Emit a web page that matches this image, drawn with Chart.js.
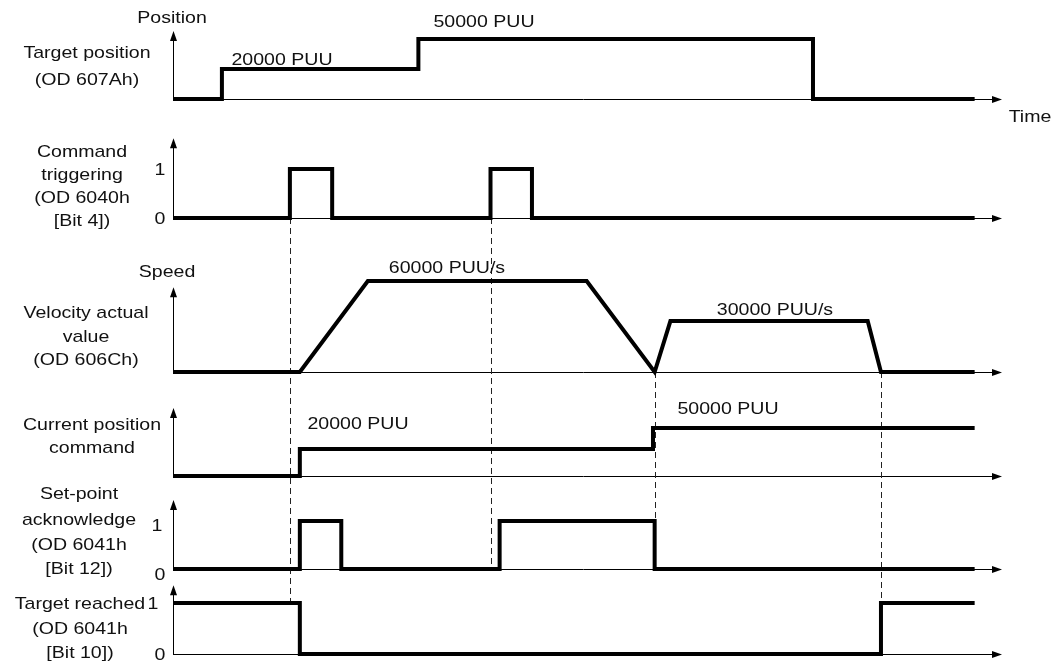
<!DOCTYPE html>
<html>
<head>
<meta charset="utf-8">
<script src="https://cdn.jsdelivr.net/npm/chart.js@4/dist/chart.umd.min.js"></script>
<style>
  html, body { margin: 0; padding: 0; background: #fff; }
  canvas { display: block; }
</style>
</head>
<body>
<canvas id="timing" width="1054" height="670"></canvas>
<script>
// Time runs 0..100 on every row (100 = tip of the time arrow)

// Target position (OD 607Ah): level 1 = 20000 PUU, level 2 = 50000 PUU
const targetT = [0, 5.9, 29.6, 77.2, 96.7];
const targetV = [0, 1, 2, 0, 0];

// Command triggering (OD 6040h [Bit 4])
const trigT = [0, 14.1, 19.2, 38.3, 43.3, 96.7];
const trigV = [0, 1, 0, 1, 0, 0];

// Velocity actual value (OD 606Ch): 1 = 60000 PUU/s, 0.56 = 30000 PUU/s (as drawn)
const speedT = [0, 15.3, 23.5, 49.9, 58.1, 60.0, 83.8, 85.4, 96.7];
const speedV = [0, 0, 1, 1, 0, 0.56, 0.56, 0, 0];

// Current position command: level 1 = 20000 PUU, 1.78 = 50000 PUU (as drawn)
const posT = [0, 15.3, 57.9, 96.7];
const posV = [0, 1, 1.78, 1.78];

// Set-point acknowledge (OD 6041h [Bit 12])
const ackT = [0, 15.3, 20.3, 39.4, 58.1, 96.7];
const ackV = [0, 1, 0, 1, 0, 0];

// Target reached (OD 6041h [Bit 10])
const reachT = [0, 15.3, 85.4, 96.7];
const reachV = [1, 0, 1, 1];

// dashed event markers: time, from row/level, to row/level
const markT = [14.1, 38.3, 58.1, 85.4];
const markFrom = [[1, 0], [1, 0], [2, 0], [2, 0]];
const markTo = [[5, 1], [4, 0], [4, 1], [5, 1]];

const rowLabels = [
  ['Target position', '(OD 607Ah)'],
  ['Command', 'triggering', '(OD 6040h', '[Bit 4])'],
  ['Velocity actual', 'value', '(OD 606Ch)'],
  ['Current position', 'command'],
  ['Set-point', 'acknowledge', '(OD 6041h', '[Bit 12])'],
  ['Target reached', '(OD 6041h', '[Bit 10])']
];

const notes = ['Position', 'Time', '20000 PUU', '50000 PUU', '60000 PUU/s', '30000 PUU/s', '20000 PUU', '50000 PUU', 'Speed'];

// layout (pixels)
const rowBase = [99, 218, 372, 476, 569, 654];
const rowUnit = [30, 49, 91, 27, 48, 51];
const axisTop = [2.27, 1.63, 0.93, 2.52, 1.44, 1.35];
const labelX = [87, 82, 86, 92, 79, 80];
const labelY = [[53, 80], [152, 175, 198, 221], [313, 337, 360], [425, 448], [494, 520, 545, 569], [604, 629, 653]];
const notePos = [[172, 18], [1030, 117], [282, 60], [484, 22], [447, 268], [775, 310], [358, 424], [728, 409], [167, 272]];
const tickMarks = [[1, '1', 160, 170], [1, '0', 160, 219], [4, '1', 157, 526], [4, '0', 160, 575], [5, '1', 153, 604], [5, '0', 160, 655]];
const canvasH = 670;
const textStretch = 1.15;

const rowIds = ['yRow1', 'yRow2', 'yRow3', 'yRow4', 'yRow5', 'yRow6'];

function points(ts, vs) {
  return ts.map((t, i) => ({x: t, y: vs[i]}));
}

function signal(ts, vs, row, stepped) {
  return {
    data: points(ts, vs),
    yAxisID: rowIds[row],
    borderColor: '#000',
    borderWidth: 4,
    pointRadius: 0,
    tension: 0,
    stepped: stepped ? 'before' : false,
    fill: false,
    clip: false
  };
}

const scales = {
  x: {type: 'linear', axis: 'x', position: 'bottom', min: 0, max: 100, display: false, bounds: 'data'}
};
rowIds.forEach((id, i) => {
  scales[id] = {
    type: 'linear',
    axis: 'y',
    position: 'left',
    display: false,
    bounds: 'data',
    min: (rowBase[i] - canvasH) / rowUnit[i],
    max: rowBase[i] / rowUnit[i]
  };
});

function stretchedText(ctx, text, x, y) {
  ctx.save();
  ctx.translate(x, y);
  ctx.scale(textStretch, 1);
  ctx.fillText(text, 0, 0);
  ctx.restore();
}

function arrowHead(ctx, x, y, dir) {
  ctx.beginPath();
  if (dir === 'right') {
    ctx.moveTo(x, y);
    ctx.lineTo(x - 10, y - 3.5);
    ctx.lineTo(x - 10, y + 3.5);
  } else {
    ctx.moveTo(x, y);
    ctx.lineTo(x - 3.5, y + 10);
    ctx.lineTo(x + 3.5, y + 10);
  }
  ctx.closePath();
  ctx.fill();
}

const decor = {
  id: 'decor',
  beforeDatasetsDraw(chart) {
    const {ctx} = chart;
    const xs = chart.scales.x;
    const x0 = xs.getPixelForValue(0);
    const x1 = xs.getPixelForValue(100);
    ctx.save();
    ctx.strokeStyle = '#000';
    ctx.fillStyle = '#000';
    ctx.lineWidth = 1;
    rowIds.forEach((id, i) => {
      const ys = chart.scales[id];
      const yb = Math.round(ys.getPixelForValue(0)) + 0.5;
      const yt = ys.getPixelForValue(axisTop[i]);
      ctx.beginPath();
      ctx.moveTo(x0, yb);
      ctx.lineTo(x1 - 8, yb);
      ctx.moveTo(x0 + 0.5, yb);
      ctx.lineTo(x0 + 0.5, yt + 8);
      ctx.stroke();
      arrowHead(ctx, x1, yb, 'right');
      arrowHead(ctx, x0 + 0.5, yt, 'up');
    });

    // dashed event lines
    ctx.strokeStyle = '#222';
    ctx.setLineDash([6, 4]);
    markT.forEach((t, i) => {
      const x = Math.round(xs.getPixelForValue(t)) + 0.5;
      const yA = chart.scales[rowIds[markFrom[i][0]]].getPixelForValue(markFrom[i][1]);
      const yB = chart.scales[rowIds[markTo[i][0]]].getPixelForValue(markTo[i][1]);
      ctx.beginPath();
      ctx.moveTo(x, yA);
      ctx.lineTo(x, yB);
      ctx.stroke();
    });
    ctx.restore();
  },
  afterDatasetsDraw(chart) {
    const {ctx} = chart;
    ctx.save();
    ctx.fillStyle = '#111';
    ctx.font = '17px "Liberation Sans", Arial, sans-serif';
    ctx.textAlign = 'center';
    ctx.textBaseline = 'middle';
    rowLabels.forEach((lines, i) => {
      lines.forEach((txt, j) => stretchedText(ctx, txt, labelX[i], labelY[i][j]));
    });
    notes.forEach((txt, i) => stretchedText(ctx, txt, notePos[i][0], notePos[i][1]));
    tickMarks.forEach(m => stretchedText(ctx, m[1], m[2], m[3]));
    ctx.restore();
  }
};

new Chart(document.getElementById('timing'), {
  type: 'line',
  data: {
    datasets: [
      signal(targetT, targetV, 0, true),
      signal(trigT, trigV, 1, true),
      signal(speedT, speedV, 2, false),
      signal(posT, posV, 3, true),
      signal(ackT, ackV, 4, true),
      signal(reachT, reachV, 5, true)
    ]
  },
  options: {
    responsive: false,
    animation: false,
    layout: {padding: {left: 173, right: 52, top: 0, bottom: 0}},
    scales,
    plugins: {legend: {display: false}, tooltip: {enabled: false}}
  },
  plugins: [decor]
});
</script>
</body>
</html>
